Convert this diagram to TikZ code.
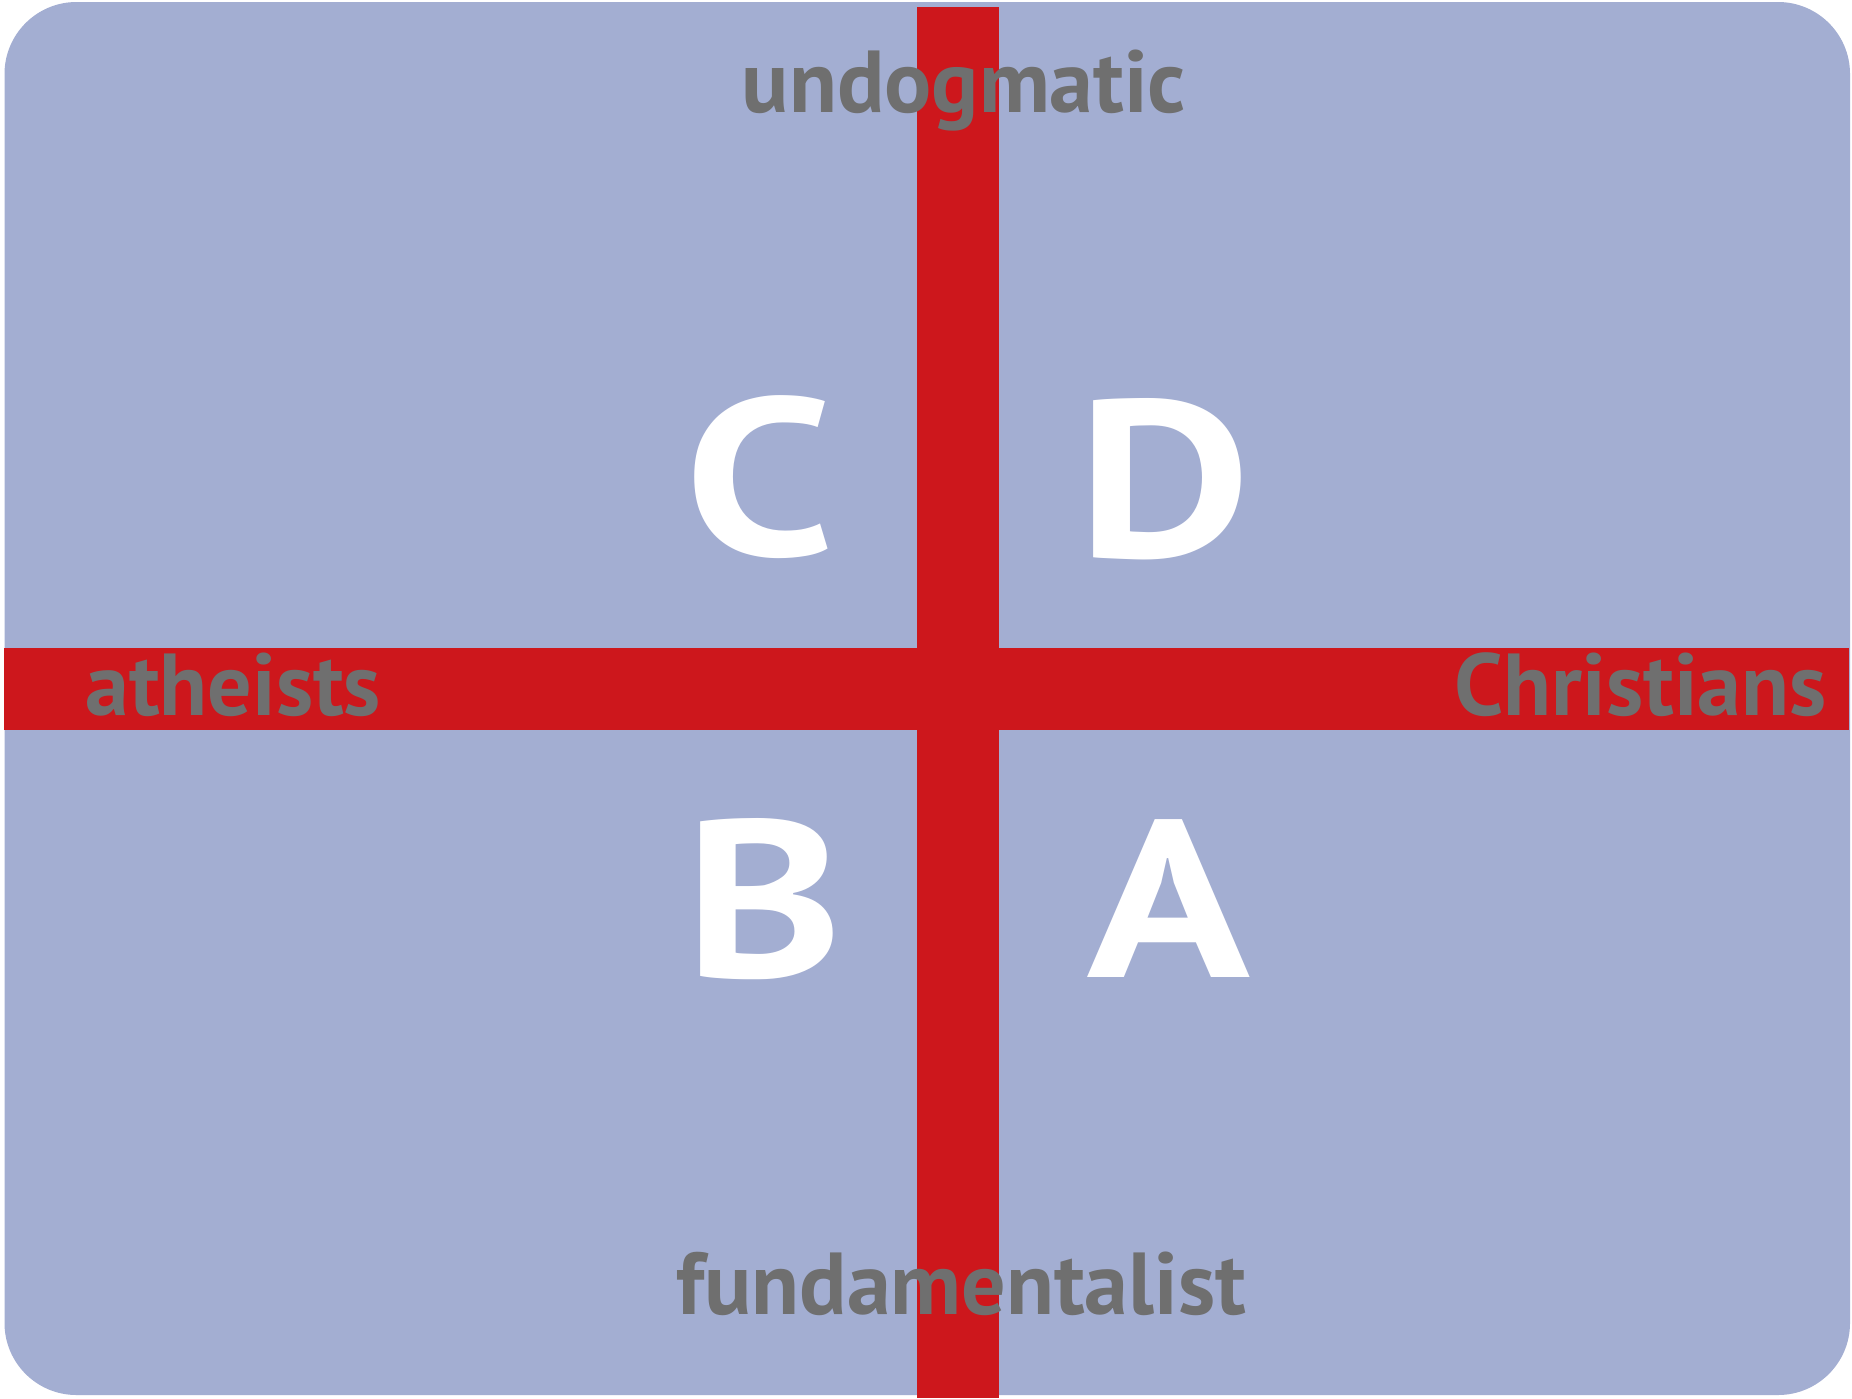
\documentclass[tikz,border=0pt]{standalone}
\usepackage{fontspec}
\setmainfont{PT Sans}
\definecolor{bgblue}{HTML}{A3AED2}
\definecolor{barred}{HTML}{CD171C}
\definecolor{labelgray}{HTML}{6F6F6F}
\newcommand{\wideletter}[1]{\scalebox{1.2}[1]{#1}}
\tikzset{
  lbl/.style={text=labelgray, inner sep=0pt, font=\bfseries\fontsize{44}{44}\selectfont},
  big/.style={text=white, inner sep=0pt, font=\bfseries\fontsize{112}{112}\selectfont},
}
\begin{document}
\begin{tikzpicture}[x=0.5pt,y=-0.5pt]
\useasboundingbox (0,0) rectangle (1852,1398);
\fill[white] (0,0) rectangle (1852,1398);
\fill[bgblue,rounded corners=36pt] (4.5,2) rectangle (1850,1395);
\fill[barred] (917,6.5) rectangle (999,1398);
\fill[barred] (3.5,648) rectangle (1848.5,730);
\node[lbl,anchor=base] (undog) at (964,112) {undogmatic};
\node[lbl,anchor=base] (fund) at (961,1314) {fundamentalist};
\node[lbl,anchor=base west] (ath) at (85,715) {atheists};
\node[lbl,anchor=base east] (chr) at (1827,715) {Christians};
\node[big,anchor=base] (C) at (760,555) {\wideletter{C}};
\node[big,anchor=base] (D) at (1164,557) {\wideletter{D}};
\node[big,anchor=base] (B) at (764,977) {\wideletter{B}};
\node[big,anchor=base] (A) at (1169,977) {\wideletter{A}};
\end{tikzpicture}
\end{document}
